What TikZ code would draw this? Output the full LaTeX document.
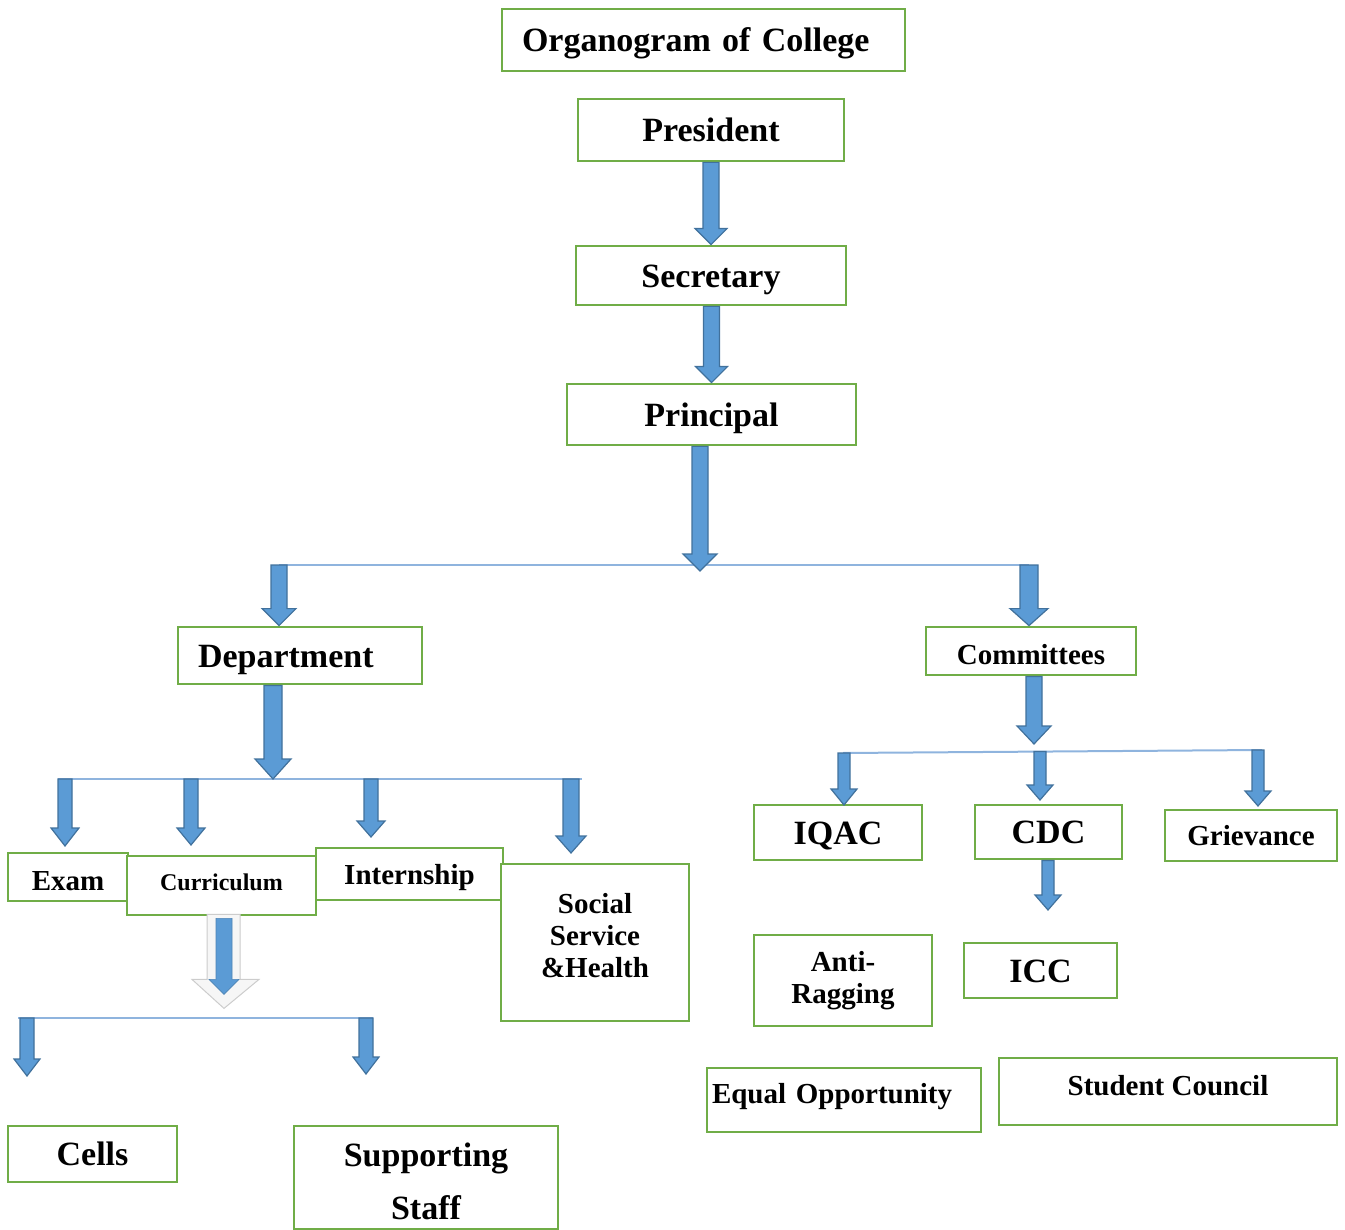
\documentclass[tikz,border=0pt]{standalone}
\usepackage{fontspec}
\setmainfont{Liberation Serif}
\usetikzlibrary{calc}
\definecolor{boxgreen}{HTML}{70AD47}
\definecolor{arrfill}{HTML}{5B9BD5}
\definecolor{arrdraw}{HTML}{41719C}
\definecolor{busblue}{HTML}{8FB4DE}
% block arrow: start, end, shaft half width, head half width, head length
\newcommand\barr[5]{\filldraw[barrow] let \p1=#1, \p2=#2 in
  (\x2-#3pt,\y1) -- (\x2+#3pt,\y1) -- (\x2+#3pt,\y2+#5pt) -- (\x2+#4pt,\y2+#5pt)
  -- (\x2,\y2) -- (\x2-#4pt,\y2+#5pt) -- (\x2-#3pt,\y2+#5pt) -- cycle;}
\begin{document}
\begin{tikzpicture}[x=1pt,y=-1pt,
  box/.style={draw=boxgreen,line width=2.8pt,fill=white,inner sep=0pt,align=center},
  slA/.style={text height=30.6pt,text depth=6.8pt},
  slB/.style={text height=26.1pt,text depth=5.8pt},
  slBb/.style={text height=31.9pt,text depth=4.6pt},
  fA/.style={font=\bfseries\fontsize{34}{39}\selectfont},
  fB/.style={font=\bfseries\fontsize{29}{32}\selectfont},
  fC/.style={font=\bfseries\fontsize{24}{28}\selectfont},
  barrow/.style={fill=arrfill,draw=arrdraw,line width=1.2pt,line join=miter},
  bus/.style={draw=busblue,line width=2pt}]
\useasboundingbox (0,0) rectangle (1345,1230);

% boxes
\node[box,fA,slA,text width=363pt,align=left,inner xsep=20pt,minimum height=62pt] (org) at (703.5,40) {Organogram of College};
\node[box,fA,slA,minimum width=266pt,minimum height=62pt] (pres) at (711,130) {President};
\node[box,fA,slA,minimum width=270pt,minimum height=59pt] (sec) at (711,275.5) {Secretary};
\node[box,fA,slA,minimum width=289pt,minimum height=61pt] (prin) at (711.5,414.5) {Principal};
\node[box,fA,slA,text width=204pt,align=left,inner xsep=20pt,minimum height=57pt] (dept) at (300,655.5) {Department};
\node[box,fB,slBb,minimum width=210pt,minimum height=48pt] (comm) at (1031,651) {Committees};
\node[box,fB,slBb,minimum width=120pt,minimum height=48pt] (exam) at (68,877) {Exam};
\node[box,fC,text height=16.3pt,text depth=7.2pt,minimum width=189pt,minimum height=59pt] (curr) at (221.5,885.5) {Curriculum};
\node[box,fB,slB,minimum width=187pt,minimum height=52pt] (intern) at (409.5,874) {Internship};
\node[box,fB,minimum width=188pt,minimum height=157pt] (soc) at (595,942.5) {Social\\Service\\\&Health\\[-18pt]\mbox{}};
\node[box,fA,slA,minimum width=169pt,minimum height=56pt] (cells) at (92.5,1154) {Cells};
\node[box,fA,font=\bfseries\fontsize{34}{53}\selectfont,minimum width=264pt,minimum height=103pt] (supp) at (426,1177.5) {\rule{0pt}{31pt}Supporting\\Staff};
\node[box,fA,slA,minimum width=168pt,minimum height=55pt] (iqac) at (838,832.5) {IQAC};
\node[box,fA,slA,minimum width=147pt,minimum height=54pt] (cdc) at (1048.5,832) {CDC};
\node[box,fB,slB,minimum width=172pt,minimum height=51pt] (griev) at (1251,835.5) {Grievance};
\node[box,fB,minimum width=178pt,minimum height=91pt] (anti) at (843,980.5) {Anti-\\Ragging};
\node[box,fA,slA,minimum width=153pt,minimum height=55pt] (icc) at (1040.5,970.5) {ICC};
\node[box,fB,text height=20.3pt,text depth=13pt,text width=264pt,align=left,inner xsep=5pt,minimum height=64pt] (equal) at (844,1100) {Equal Opportunity};
\node[box,fB,text height=20.3pt,text depth=12.2pt,minimum width=338pt,minimum height=67pt] (stud) at (1168,1091.5) {Student Council};

% coordinates
\coordinate (ptip) at (700,571);
\coordinate (busL) at (279,565);
\coordinate (busR) at (1029,565);
\coordinate (dtip) at (273,779);
\coordinate (dbusL) at (58,779);
\coordinate (dbusR) at (582,779);
\coordinate (texam) at (65,846);
\coordinate (tcurr) at (191,845);
\coordinate (tint) at (371,837);
\coordinate (tsoc) at (571,853);
\coordinate (cbusL) at (18,1018);
\coordinate (cbusR) at (373,1018);
\coordinate (tcells) at (27,1076);
\coordinate (tsupp) at (366,1074);
\coordinate (ctip) at (1034,744);
\coordinate (kbusL) at (843,753);
\coordinate (kbusR) at (1262,750);
\coordinate (tiqac) at (844,805);
\coordinate (tcdc) at (1040,800);
\coordinate (tgriev) at (1258,806);
\coordinate (tcdc2) at (1048,910);

% bus lines
\draw[bus] (busL) -- (busR);
\draw[bus] (dbusL) -- (dbusR);
\draw[bus] (cbusL) -- (cbusR);
\draw[bus] (kbusL) -- (kbusR);

% block arrows
\barr{(pres.south)}{(sec.north)}{8}{16}{16}
\barr{(sec.south)}{(prin.north)}{8}{16}{16}
\barr{(prin.south -| ptip)}{(ptip)}{8}{17}{17}
\barr{(busL)}{(dept.north -| busL)}{8}{17}{17}
\barr{(busR)}{(comm.north -| busR)}{9}{19}{17}
\barr{(dept.south -| dtip)}{(dtip)}{9}{18}{20}
\barr{(dbusL -| texam)}{(texam)}{7}{14}{18}
\barr{(dbusL -| tcurr)}{(tcurr)}{7}{14}{17}
\barr{(dbusL -| tint)}{(tint)}{7}{14}{16}
\barr{(dbusL -| tsoc)}{(tsoc)}{8}{15}{17}
\barr{(cbusL -| tcells)}{(tcells)}{7}{13}{17}
\barr{(cbusL -| tsupp)}{(tsupp)}{7}{13}{17}
\barr{(comm.south -| ctip)}{(ctip)}{8}{17}{18}
\barr{(kbusL -| tiqac)}{(tiqac)}{6}{13}{16}
\barr{($(kbusL)!0.47!(kbusR)$ -| tcdc)}{(tcdc)}{6}{13}{15}
\barr{(kbusR -| tgriev)}{(tgriev)}{6}{13}{15}
\barr{(cdc.south -| tcdc2)}{(tcdc2)}{6}{13}{15}

% hollow arrow below Curriculum
\begin{scope}[shift={(curr.south)}]
  \filldraw[fill=gray!7,draw=gray!40,line width=1pt]
    (-14.5,-2) -- (18.5,-2) -- (18.5,63) -- (37.5,63) -- (2.5,92) -- (-29.5,63) -- (-14.5,63) -- cycle;
  \filldraw[fill=arrfill,draw=arrfill!85!black,line width=0.6pt]
    (-5.5,2) -- (10.5,2) -- (10.5,63) -- (17.5,63) -- (2.5,78) -- (-12.5,63) -- (-5.5,63) -- cycle;
\end{scope}
\end{tikzpicture}
\end{document}
